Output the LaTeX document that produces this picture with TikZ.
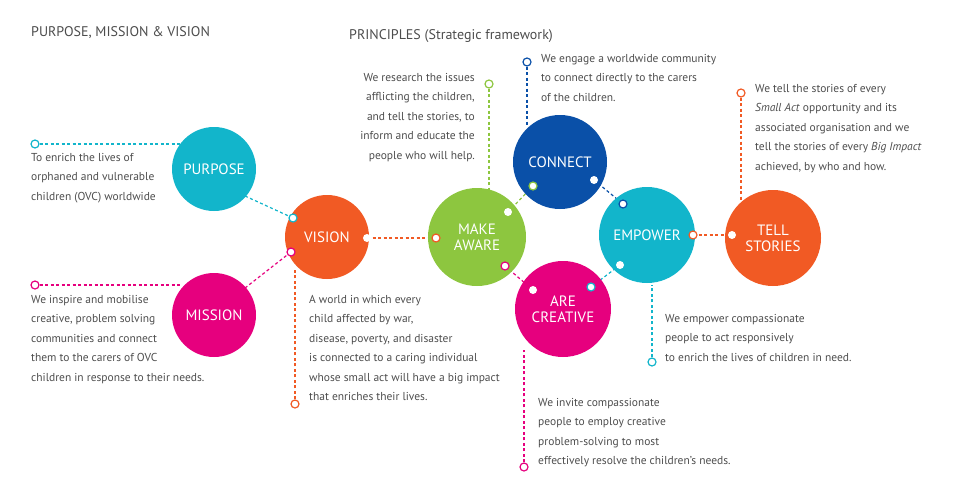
\documentclass[tikz,border=0pt]{standalone}
\usepackage{fontspec}
\setmainfont{PT Sans}
\usetikzlibrary{positioning}
\definecolor{cyanc}{HTML}{12B5CB}
\definecolor{magc}{HTML}{E6007E}
\definecolor{orac}{HTML}{F15A24}
\definecolor{grnc}{HTML}{8DC63F}
\definecolor{bluc}{HTML}{0A50A8}
\definecolor{txtc}{HTML}{4D4D4D}
\begin{document}
\begin{tikzpicture}[x=1pt,y=-1pt,
    ball/.style={circle,inner sep=0pt,text=white,align=center,font=\fontsize{15}{16}\selectfont},
    dot/.style={circle,fill=white,inner sep=0pt,minimum size=8pt},
    ring/.style={circle,fill=white,draw=#1,line width=1.2pt,inner sep=0pt,minimum size=8pt},
    link/.style={draw=#1,dashed,line width=1.2pt,dash pattern=on 3pt off 2.5pt},
    txt/.style={text=txtc,inner sep=0pt,anchor=north west,align=left,font=\fontsize{11.5}{19.5}\selectfont},
    ttl/.style={text=txtc,inner sep=0pt,anchor=west,font=\fontsize{14}{16}\selectfont}]
    \useasboundingbox (0,0) rectangle (960,495);

    % titles
    \node[ttl] (t1) at (31,33) {PURPOSE, MISSION \& VISION};
    \node[ttl] (t2) at (349,36) {PRINCIPLES (Strategic framework)};

    % end markers and joints
    \node[ring=cyanc] (mp) at (35,144) {};
    \node[ring=magc] (mm) at (35,285) {};
    \node[ring=orac] (mv) at (295,404) {};
    \node[ring=grnc] (ma) at (489,84) {};
    \node[ring=bluc] (mc) at (527,62) {};
    \node[ring=orac] (mt) at (741,93) {};
    \node[ring=cyanc] (me) at (652,362) {};
    \node[ring=magc] (mr) at (524,467) {};
    \coordinate (jp) at (180,144);
    \coordinate (jm) at (180,285);
    \coordinate (jv) at (295,270);
    \coordinate (ja) at (489,195);
    \coordinate (jc) at (527,125);
    \coordinate (jt) at (741,200);
    \coordinate (je) at (652,285);
    \coordinate (jr) at (524,350);

    % dashed connectors (drawn under the circles)
    \draw[link=cyanc] (mp) -- (jp);
    \draw[link=magc] (mm) -- (jm);
    \draw[link=orac] (mv) -- (jv);
    \draw[link=grnc] (ma) -- (ja);
    \draw[link=bluc] (mc) -- (jc);
    \draw[link=orac] (mt) -- (jt);
    \draw[link=cyanc] (me) -- (je);
    \draw[link=magc] (mr) -- (jr);
    \draw[link=cyanc] (245,196) -- (293,218);
    \draw[link=magc] (245,288) -- (291,252);
    \draw[link=orac] (367,238) -- (436,238);
    \draw[link=grnc] (508,212) -- (533,186);
    \draw[link=bluc] (594,180) -- (623,204);
    \draw[link=cyanc] (620,265) -- (591,287);
    \draw[link=magc] (505,266) -- (533,290);
    \draw[link=orac] (693,235) -- (732,235);

    % circles
    \node[ball,fill=cyanc,minimum size=84pt] (purpose) at (214,169) {PURPOSE};
    \node[ball,fill=magc,minimum size=84pt] (mission) at (214,315) {MISSION};
    \node[ball,fill=orac,minimum size=84pt] (vision) at (327,237) {VISION};
    \node[ball,fill=grnc,minimum size=98pt] (aware) at (477,237) {MAKE\\AWARE};
    \node[ball,fill=bluc,minimum size=94pt] (connect) at (560,162) {CONNECT};
    \node[ball,fill=magc,minimum size=96pt] (creative) at (563,309) {ARE\\CREATIVE};
    \node[ball,fill=cyanc,minimum size=96pt] (empower) at (647,235) {EMPOWER};
    \node[ball,fill=orac,minimum size=96pt] (stories) at (773,238) {TELL\\STORIES};

    % joints on the circles
    \node[ring=cyanc] at (293,218) {};
    \node[ring=magc] at (291,252) {};
    \node[dot] at (367,238) {};
    \node[ring=orac] at (436,238) {};
    \node[dot] at (508,212) {};
    \node[ring=grnc] at (533,186) {};
    \node[dot] at (594,180) {};
    \node[ring=bluc] at (623,204) {};
    \node[dot] at (620,265) {};
    \node[ring=cyanc] at (591,287) {};
    \node[ring=magc] at (505,266) {};
    \node[dot] at (533,290) {};
    \node[ring=orac] at (693,235) {};
    \node[dot] at (732,235) {};

    % texts
    \node[txt] (tp) at (31,153) {To enrich the lives of\\orphaned and vulnerable\\children (OVC) worldwide};
    \node[txt] (tm) at (31,295) {We inspire and mobilise\\creative, problem solving\\communities and connect\\them to the carers of OVC\\children in response to their needs.};
    \node[txt] (tv) at (309,295) {A world in which every\\child affected by war,\\disease, poverty, and disaster\\is connected to a caring individual\\whose small act will have a big impact\\that enriches their lives.};
    \node[txt,anchor=north east,align=right] (ta) at (475,73) {We research the issues\\afflicting the children,\\and tell the stories, to\\inform and educate the\\people who will help.};
    \node[txt] (tc) at (541,54) {We engage a worldwide community\\to connect directly to the carers\\of the children.};
    \node[txt] (tt) at (755,84) {We tell the stories of every\\\textit{Small Act} opportunity and its\\associated organisation and we\\tell the stories of every \textit{Big Impact}\\achieved, by who and how.};
    \node[txt] (te) at (665,314) {We empower compassionate\\people to act responsively\\to enrich the lives of children in need.};
    \node[txt] (tr) at (538,398) {We invite compassionate\\people to employ creative\\problem-solving to most\\effectively resolve the children's needs.};
\end{tikzpicture}
\end{document}
